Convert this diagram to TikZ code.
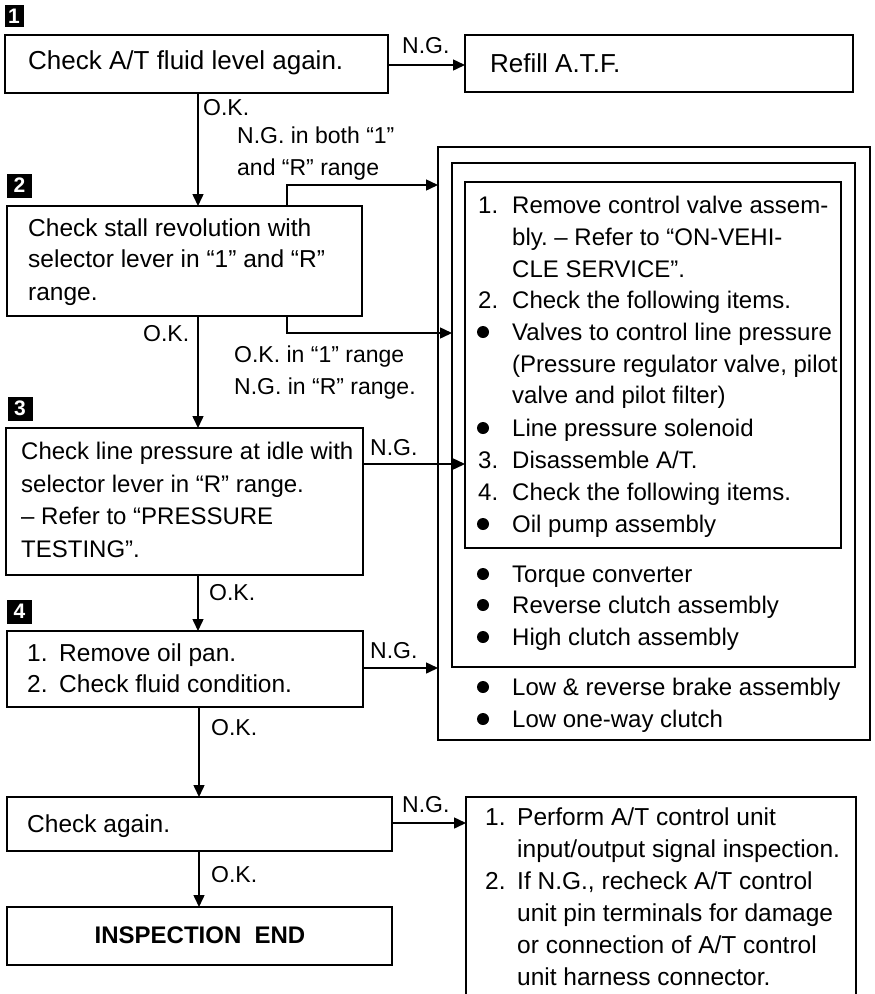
\documentclass[tikz,border=0pt]{standalone}
\usepackage{fontspec}
\setmainfont{Liberation Sans}
\usetikzlibrary{arrows.meta}
\frenchspacing
\begin{document}
\begin{tikzpicture}[x=1pt,y=-1pt,
  box/.style={draw, line width=1.8pt, anchor=north west, inner sep=0pt, outer sep=0pt},
  txt/.style={anchor=base west, inner sep=0pt, font=\fontsize{24.5}{32}\selectfont},
  rtxt/.style={anchor=base west, inner sep=0pt, font=\fontsize{24}{32}\selectfont},
  bigtxt/.style={anchor=base west, inner sep=0pt, font=\fontsize{26}{32}\selectfont},
  lbl/.style={anchor=base west, inner sep=0pt, font=\fontsize{23}{28}\selectfont},
  badge/.style={fill=black, text=white, inner sep=0pt, font=\fontsize{21}{21}\bfseries\selectfont},
  arr/.style={line width=1.5pt, -{Triangle[length=12pt,width=11pt]}},
  bul/.style={fill=black}]
\useasboundingbox (0,0) rectangle (875,994);

% badges
\node[badge, minimum width=19pt, minimum height=22pt] (n1) at (14,16) {1};
\node[badge, minimum width=25pt, minimum height=24pt] (n2) at (19.5,185.5) {2};
\node[badge, minimum width=25pt, minimum height=24pt] (n3) at (20,408.5) {3};
\node[badge, minimum width=25pt, minimum height=24pt] (n4) at (19.5,611.5) {4};

% boxes
\node[box, minimum width=383pt, minimum height=58pt] (b1) at (5,35) {};
\node[box, minimum width=388pt, minimum height=57pt] (refill) at (465,35) {};
\node[box, minimum width=355pt, minimum height=110pt] (b2) at (7,206) {};
\node[box, minimum width=357pt, minimum height=147pt] (b3) at (6,428) {};
\node[box, minimum width=356pt, minimum height=76pt] (b4) at (7,631) {};
\node[box, minimum width=385pt, minimum height=54pt] (b5) at (7,797) {};
\node[box, minimum width=385pt, minimum height=58pt] (bend) at (7,907) {};
\node[box, minimum width=432pt, minimum height=593pt] (outer) at (438,147) {};
\node[box, minimum width=403pt, minimum height=504pt] (middle) at (452,163) {};
\node[box, minimum width=376pt, minimum height=366pt] (inner) at (465,182) {};
\node[anchor=north west, inner sep=0pt, outer sep=0pt, minimum width=390pt, minimum height=203pt] (b6) at (466,797) {};
\draw[line width=1.8pt] (b6.south west) |- (b6.north east) -- (b6.south east);

% coordinates for connectors
\coordinate (spine) at (198,0);
\coordinate (spineb) at (199,0);
\coordinate (tap) at (287,0);
\coordinate (y1) at (0,65);
\coordinate (y2a) at (0,185);
\coordinate (y2b) at (0,333);
\coordinate (y3) at (0,464);
\coordinate (y4) at (0,668);
\coordinate (y5) at (0,823);

% connectors
\draw[arr] (b1.east |- y1) -- (refill.west |- y1);
\draw[arr] (b1.south -| spine) -- (b2.north -| spine);
\draw[arr] (b2.north -| tap) |- (outer.west |- y2a);
\draw[arr] (b2.south -| tap) |- (middle.west |- y2b);
\draw[arr] (b2.south -| spine) -- (b3.north -| spine);
\draw[arr] (b3.east |- y3) -- (inner.west |- y3);
\draw[arr] (b3.south -| spine) -- (b4.north -| spine);
\draw[arr] (b4.east |- y4) -- (outer.west |- y4);
\draw[arr] (b4.south -| spineb) -- (b5.north -| spineb);
\draw[arr] (b5.east |- y5) -- (b6.west |- y5);
\draw[arr] (b5.south -| spineb) -- (bend.north -| spineb);

% connector labels
\node[lbl] (l1) at (402,53) {N.G.};
\node[lbl] (l2) at (203,115) {O.K.};
\node[lbl] (l3) at (237,143) {N.G. in both “1”};
\node[lbl] (l4) at (237,175) {and “R” range};
\node[lbl] (l5) at (143,341) {O.K.};
\node[lbl] (l6) at (234,362) {O.K. in “1” range};
\node[lbl] (l7) at (234,394) {N.G. in “R” range.};
\node[lbl] (l8) at (370,455) {N.G.};
\node[lbl] (l9) at (209,600) {O.K.};
\node[lbl] (l10) at (370,658) {N.G.};
\node[lbl] (l11) at (211,735) {O.K.};
\node[lbl] (l12) at (402,812) {N.G.};
\node[lbl] (l13) at (211,882) {O.K.};

% box texts
\node[bigtxt] (t1) at (28,69) {Check A/T fluid level again.};
\node[bigtxt] (tr) at (490,72) {Refill A.T.F.};
\node[txt] (t2a) at (28,236) {Check stall revolution with};
\node[txt] (t2b) at (28,267) {selector lever in “1” and “R”};
\node[txt] (t2c) at (28,300) {range.};
\node[rtxt] (t3a) at (21,459) {Check line pressure at idle with};
\node[rtxt] (t3b) at (21,492) {selector lever in “R” range.};
\node[rtxt] (t3c) at (21,524) {– Refer to “PRESSURE};
\node[rtxt] (t3d) at (21,557) {TESTING”.};
\node[txt] (t4a) at (27,661) {1.};
\node[txt] (t4b) at (59,661) {Remove oil pan.};
\node[txt] (t4c) at (27,692) {2.};
\node[txt] (t4d) at (59,692) {Check fluid condition.};
\node[txt] (t5) at (27,832) {Check again.};
\node[anchor=base, inner sep=0pt, font=\fontsize{24}{30}\bfseries\selectfont] (tend) at (200,943) {INSPECTION\hspace{0.55em}END};

% right nested box texts
\node[rtxt] (r1n) at (478,213) {1.};
\node[rtxt] (r1) at (512,213) {Remove control valve assem-};
\node[rtxt] (r2) at (512,245) {bly. – Refer to “ON-VEHI-};
\node[rtxt] (r3) at (512,277) {CLE SERVICE”.};
\node[rtxt] (r4n) at (478,308) {2.};
\node[rtxt] (r4) at (512,308) {Check the following items.};
\node[rtxt] (r5) at (512,340) {Valves to control line pressure};
\node[rtxt] (r6) at (512,372) {(Pressure regulator valve, pilot};
\node[rtxt] (r7) at (512,403) {valve and pilot filter)};
\node[rtxt] (r8) at (512,436) {Line pressure solenoid};
\node[rtxt] (r9n) at (478,468) {3.};
\node[rtxt] (r9) at (512,468) {Disassemble A/T.};
\node[rtxt] (r10n) at (478,500) {4.};
\node[rtxt] (r10) at (512,500) {Check the following items.};
\node[rtxt] (r11) at (512,532) {Oil pump assembly};
\node[rtxt] (r12) at (512,582) {Torque converter};
\node[rtxt] (r13) at (512,613) {Reverse clutch assembly};
\node[rtxt] (r14) at (512,645) {High clutch assembly};
\node[rtxt] (r15) at (512,695) {Low \& reverse brake assembly};
\node[rtxt] (r16) at (512,727) {Low one-way clutch};
\foreach \yy in {340,436,532,582,613,645,695,727}
  \fill[bul] (483,\yy-8) circle (6pt);

% bottom right box texts
\node[txt] (s1n) at (485,825) {1.};
\node[txt] (s1) at (517,825) {Perform A/T control unit};
\node[txt] (s2) at (517,857) {input/output signal inspection.};
\node[txt] (s3n) at (485,889) {2.};
\node[txt] (s3) at (517,889) {If N.G., recheck A/T control};
\node[txt] (s4) at (517,921) {unit pin terminals for damage};
\node[txt] (s5) at (517,953) {or connection of A/T control};
\node[txt] (s6) at (517,985) {unit harness connector.};
\end{tikzpicture}
\end{document}
